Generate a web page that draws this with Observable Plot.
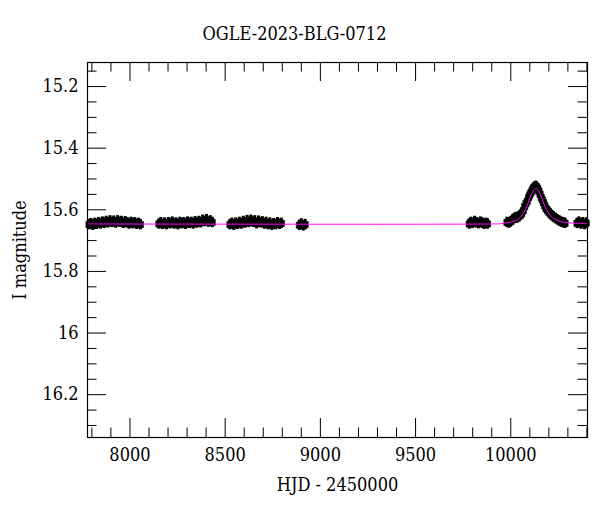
<!DOCTYPE html>
<html><head><meta charset="utf-8">
<script src="https://cdn.jsdelivr.net/npm/d3@7"></script>
<script src="https://cdn.jsdelivr.net/npm/@observablehq/plot@0.6"></script>
<style>body{margin:0;background:#fff}</style>
</head><body><div id="chart"></div>
<script>
const titleText = "OGLE-2023-BLG-0712";
const xLabelText = "HJD - 2450000";
const yLabelText = "I magnitude";

const xDomain = [7777, 10403];
const yDomain = [15.122, 16.339];

const xMajor = [8000, 8500, 9000, 9500, 10000];
const xMajorLabels = ["8000", "8500", "9000", "9500", "10000"];
const xMinor = [7800, 7900, 8100, 8200, 8300, 8400, 8600, 8700, 8800, 8900, 9100, 9200, 9300, 9400, 9600, 9700, 9800, 9900, 10100, 10200, 10300, 10400];
const yMajor = [15.2, 15.4, 15.6, 15.8, 16.0, 16.2];
const yMajorLabels = ["15.2", "15.4", "15.6", "15.8", "16", "16.2"];
const yMinor = [15.15, 15.25, 15.3, 15.35, 15.45, 15.5, 15.55, 15.65, 15.7, 15.75, 15.85, 15.9, 15.95, 16.05, 16.1, 16.15, 16.25, 16.3];

const errI = 0.017;

const season1 = [[7785,15.648],[7795,15.645],[7805,15.650],[7815,15.644],[7825,15.647],[7835,15.642],[7845,15.646],[7855,15.640],[7865,15.644],[7875,15.638],[7885,15.642],[7895,15.636],[7905,15.641],[7915,15.637],[7925,15.643],[7935,15.636],[7945,15.640],[7955,15.638],[7965,15.644],[7975,15.639],[7985,15.642],[7995,15.646],[8005,15.641],[8015,15.645],[8025,15.642],[8035,15.647],[8045,15.644],[8055,15.648]];
const season2 = [[8152,15.646],[8162,15.642],[8172,15.647],[8182,15.643],[8192,15.648],[8202,15.642],[8212,15.645],[8222,15.640],[8232,15.646],[8242,15.643],[8252,15.648],[8262,15.641],[8272,15.645],[8282,15.642],[8292,15.647],[8302,15.640],[8312,15.644],[8322,15.641],[8332,15.646],[8342,15.639],[8352,15.643],[8362,15.638],[8372,15.642],[8382,15.634],[8392,15.638],[8402,15.632],[8412,15.640],[8422,15.636],[8432,15.641]];
const season3 = [[8525,15.648],[8535,15.644],[8545,15.650],[8555,15.643],[8565,15.647],[8575,15.641],[8585,15.646],[8595,15.638],[8605,15.643],[8615,15.635],[8625,15.641],[8635,15.634],[8645,15.640],[8655,15.636],[8665,15.645],[8675,15.637],[8685,15.642],[8695,15.639],[8705,15.646],[8715,15.641],[8725,15.648],[8735,15.643],[8745,15.650],[8755,15.645],[8765,15.648],[8775,15.642],[8785,15.647],[8795,15.644]];
const season4 = [[8890,15.650],[8900,15.646],[8910,15.652],[8920,15.648]];
const season5 = [[9782,15.646],[9790,15.641],[9800,15.644],[9810,15.638],[9820,15.642],[9830,15.645],[9840,15.640],[9850,15.643],[9860,15.647],[9870,15.644],[9878,15.646]];
const season6 = [[9980,15.641],[9990,15.643],[10000,15.638],[10010,15.632],[10018,15.628],[10026,15.625],[10034,15.627],[10042,15.622],[10050,15.618],[10058,15.612],[10066,15.603],[10073,15.590],[10080,15.580],[10087,15.572],[10094,15.560],[10100,15.552],[10106,15.545],[10112,15.537],[10118,15.530],[10124,15.527],[10130,15.524],[10136,15.526],[10142,15.532],[10148,15.540],[10154,15.550],[10160,15.560],[10166,15.568],[10172,15.577],[10178,15.587],[10185,15.596],[10192,15.602],[10200,15.608],[10208,15.614],[10216,15.619],[10224,15.623],[10234,15.628],[10244,15.632],[10254,15.636],[10265,15.640],[10275,15.642],[10285,15.644]];
const season7 = [[10348,15.644],[10358,15.640],[10368,15.646],[10378,15.642],[10388,15.648],[10396,15.643]];

const modelCurve = [[7777,15.646],[9900,15.646],[9950,15.645],[10000,15.640],[10030,15.633],[10050,15.624],[10070,15.608],[10085,15.588],[10100,15.563],[10110,15.548],[10120,15.537],[10128,15.532],[10133,15.531],[10140,15.534],[10150,15.543],[10160,15.557],[10170,15.573],[10180,15.590],[10195,15.607],[10210,15.619],[10230,15.630],[10260,15.638],[10300,15.642],[10350,15.644],[10403,15.645]];

const points = [...season1, ...season2, ...season3, ...season4, ...season5, ...season6, ...season7];

const W = 600, H = 512, mL = 87, mR = 13, mT = 62, mB = 75;
const pw = W - mL - mR, ph = H - mT - mB;
const majorLen = 19, minorLen = 9.5;
const font = "'DejaVu Serif Condensed','Liberation Serif',serif";

const chart = Plot.plot({
  width: W, height: H,
  marginLeft: mL, marginRight: mR, marginTop: mT, marginBottom: mB,
  style: {fontFamily: font, fontSize: "18px", background: "white", color: "black"},
  x: {domain: xDomain, axis: null},
  y: {domain: yDomain, reverse: true, axis: null},
  marks: [
    Plot.ruleX(points, {x: d => d[0], y1: d => d[1] - errI, y2: d => d[1] + errI, stroke: "black", strokeWidth: 3}),
    Plot.dot(points, {x: d => d[0], y: d => d[1], symbol: "square", r: 3.6, fill: "black", stroke: "black", strokeWidth: 0.5}),
    Plot.line(modelCurve, {x: d => d[0], y: d => d[1], stroke: "#ff00ff", strokeWidth: 1, curve: "catmull-rom"}),
    // ticks: bottom / top
    Plot.tickX(xMajor, {x: d => d, insetTop: ph - majorLen, stroke: "black"}),
    Plot.tickX(xMinor, {x: d => d, insetTop: ph - minorLen, stroke: "black"}),
    Plot.tickX(xMajor, {x: d => d, insetBottom: ph - majorLen, stroke: "black"}),
    Plot.tickX(xMinor, {x: d => d, insetBottom: ph - minorLen, stroke: "black"}),
    // ticks: left / right
    Plot.tickY(yMajor, {y: d => d, insetRight: pw - majorLen, stroke: "black"}),
    Plot.tickY(yMinor, {y: d => d, insetRight: pw - minorLen, stroke: "black"}),
    Plot.tickY(yMajor, {y: d => d, insetLeft: pw - majorLen, stroke: "black"}),
    Plot.tickY(yMinor, {y: d => d, insetLeft: pw - minorLen, stroke: "black"}),
    Plot.frame({stroke: "black", strokeWidth: 1.2}),
    // tick labels
    Plot.text(xMajor, {x: d => d, text: (d, i) => xMajorLabels[i], frameAnchor: "bottom", dy: 11, lineAnchor: "top", fill: "black", fontSize: 18}),
    Plot.text(yMajor, {y: d => d, text: (d, i) => yMajorLabels[i], frameAnchor: "left", dx: -9, textAnchor: "end", fill: "black", fontSize: 18}),
    // axis titles
    Plot.text([xLabelText], {text: d => d, frameAnchor: "bottom", dy: 48, textAnchor: "middle", lineAnchor: "middle", fill: "black", fontSize: 18}),
    Plot.text([yLabelText], {text: d => d, frameAnchor: "left", dx: -67, rotate: -90, textAnchor: "middle", lineAnchor: "middle", fill: "black", fontSize: 18}),
    Plot.text([titleText], {text: d => d, frameAnchor: "top", dx: -43, dy: -28, textAnchor: "middle", lineAnchor: "middle", fill: "black", fontSize: 18})
  ]
});
document.getElementById("chart").appendChild(chart);
</script>
</body></html>
